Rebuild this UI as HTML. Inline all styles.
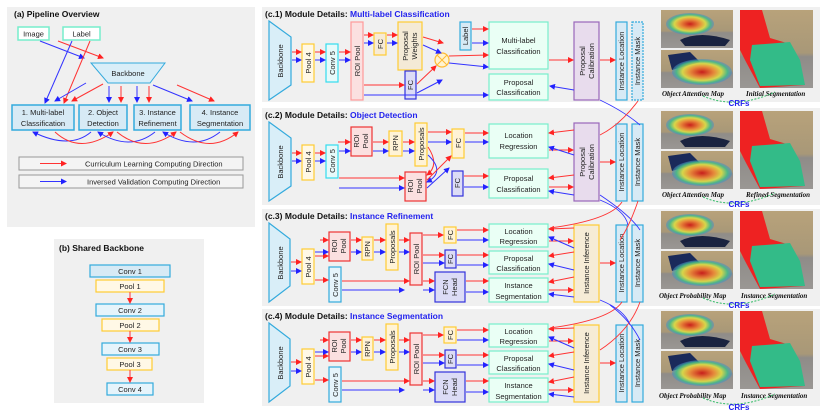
<!DOCTYPE html>
<html><head><meta charset="utf-8"><style>
html,body{margin:0;padding:0;background:#fff;}
svg{display:block;font-family:"Liberation Sans",sans-serif;}
</style></head><body>
<svg width="830" height="415" viewBox="0 0 830 415" xmlns="http://www.w3.org/2000/svg">
<defs>
<marker id="r" markerWidth="6" markerHeight="6" refX="5" refY="3" orient="auto" markerUnits="userSpaceOnUse"><path d="M0,0 L6,3 L0,6 z" fill="#f22"/></marker>
<marker id="b" markerWidth="6" markerHeight="6" refX="5" refY="3" orient="auto" markerUnits="userSpaceOnUse"><path d="M0,0 L6,3 L0,6 z" fill="#22f"/></marker>
<radialGradient id="heat1"><stop offset="0" stop-color="#c11"/><stop offset="0.4" stop-color="#e83"/><stop offset="0.65" stop-color="#dd4"/><stop offset="0.85" stop-color="#4b8"/><stop offset="1" stop-color="#48c" stop-opacity="0.5"/></radialGradient>
<linearGradient id="photo" x1="0" y1="0" x2="0" y2="1"><stop offset="0" stop-color="#b8a27a"/><stop offset="0.55" stop-color="#a89878"/><stop offset="0.6" stop-color="#8f8c88"/><stop offset="1" stop-color="#9a9794"/></linearGradient>
</defs>
<style>
.t{font-size:7.5px;fill:#222;}
.h{font-size:8.5px;font-weight:bold;fill:#111;}
.hb{font-size:8.5px;font-weight:bold;fill:#22e;}
.rl{stroke:#f33;stroke-width:1;fill:none;marker-end:url(#r);}
.bl{stroke:#33f;stroke-width:1;fill:none;marker-end:url(#b);}
.cap{font-family:"Liberation Serif",serif;font-style:italic;font-weight:bold;font-size:7px;fill:#111;}
</style>

<!-- (a) -->
<rect x="7" y="7" width="248" height="220" fill="#f0f0f0"/>
<text x="14" y="17" class="h">(a) Pipeline Overview</text>
<rect x="18" y="27" width="31" height="13" fill="#fff" stroke="#7ec" stroke-width="1.5"/><text x="33.5" y="36.5" class="t" text-anchor="middle">Image</text>
<rect x="63" y="27" width="37" height="13" fill="#fff" stroke="#7ec" stroke-width="1.5"/><text x="81.5" y="36.5" class="t" text-anchor="middle">Label</text>
<polygon points="91,63 165,63 150,83 108,83" fill="#d9eef8" stroke="#3ad" stroke-width="1"/><text x="128" y="76" class="t" text-anchor="middle">Backbone</text>
<g fill="#d7eaf5" stroke="#3ad" stroke-width="1.5">
<rect x="12" y="105" width="62" height="25"/><rect x="79" y="105" width="48" height="25"/><rect x="134" y="105" width="47" height="25"/><rect x="190" y="105" width="60" height="25"/></g>
<g class="t" text-anchor="middle"><text x="43" y="115">1. Multi-label</text><text x="43" y="126">Classification</text><text x="103" y="115">2. Object</text><text x="103" y="126">Detection</text><text x="157.5" y="115">3. Instance</text><text x="157.5" y="126">Refinement</text><text x="220" y="115">4. Instance</text><text x="220" y="126">Segmentation</text></g>
<path class="bl" d="M40,41 L84,58"/><path class="rl" d="M58,41 L103,58"/>
<path class="bl" d="M72,41 L45,103"/><path class="rl" d="M90,41 L64,103"/>
<path class="bl" d="M86,83 L55,101"/><path class="rl" d="M103,84 L72,101"/>
<path class="bl" d="M109,86 L109,102"/><path class="rl" d="M121,86 L121,102"/>
<path class="bl" d="M137,86 L137,102"/><path class="rl" d="M149,86 L149,102"/>
<path class="bl" d="M153,85 L192,101"/><path class="rl" d="M177,85 L214,101"/>
<path class="bl" d="M91,132 Q70,150 33,132"/><path class="rl" d="M55,132 Q80,155 113,132"/>
<path class="bl" d="M155,132 Q130,152 98,132"/><path class="rl" d="M117,132 Q145,155 176,132"/>
<path class="bl" d="M220,132 Q195,152 163,132"/><path class="rl" d="M180,132 Q210,155 238,132"/>
<rect x="19" y="157" width="224" height="13" fill="#f4f4f4" stroke="#999"/><path class="rl" d="M40,163.5 L66,163.5"/><text x="85" y="166.5" class="t">Curriculum Learning Computing Direction</text>
<rect x="19" y="175" width="224" height="13" fill="#f4f4f4" stroke="#999"/><path class="bl" d="M40,181.5 L66,181.5"/><text x="87" y="184.5" class="t">Inversed Validation Computing Direction</text>

<!-- (b) -->
<rect x="54" y="239" width="150" height="164" fill="#f0f0f0"/>
<text x="59" y="251" class="h">(b) Shared Backbone</text>
<g stroke-width="1.2">
<rect x="90" y="265" width="80" height="12" fill="#d7eaf5" stroke="#3ad"/>
<rect x="96" y="280" width="68" height="12" fill="#fff8e6" stroke="#fc3"/>
<rect x="96" y="304" width="68" height="12" fill="#e6f4fb" stroke="#3ad"/>
<rect x="102" y="319" width="57" height="12" fill="#fff8e6" stroke="#fc3"/>
<rect x="102" y="343" width="57" height="12" fill="#e6f4fb" stroke="#3ad"/>
<rect x="107" y="358" width="45" height="12" fill="#fff8e6" stroke="#fc3"/>
<rect x="107" y="383" width="46" height="12" fill="#e6f4fb" stroke="#3ad"/></g>
<g class="t" text-anchor="middle"><text x="130" y="274">Conv  1</text><text x="130" y="289">Pool 1</text><text x="130" y="313">Conv 2</text><text x="130" y="328">Pool 2</text><text x="130" y="352">Conv 3</text><text x="130" y="367">Pool 3</text><text x="130" y="392">Conv 4</text></g>
<path class="rl" d="M130,292 L130,303"/><path class="rl" d="M130,331 L130,342"/><path class="rl" d="M130,370 L130,382"/>

<!-- panels c backgrounds -->
<rect x="262" y="7" width="558" height="95" fill="#f0f0f0"/>
<rect x="262" y="108" width="558" height="97" fill="#f0f0f0"/>
<rect x="262" y="209" width="558" height="97" fill="#f0f0f0"/>
<rect x="262" y="309" width="558" height="97" fill="#f0f0f0"/>
<text x="265" y="17" class="h">(c.1) Module Details: <tspan class="hb">Multi-label Classification</tspan></text>
<text x="265" y="118" class="h">(c.2) Module Details: <tspan class="hb">Object Detection</tspan></text>
<text x="265" y="219" class="h">(c.3) Module Details: <tspan class="hb">Instance Refinement</tspan></text>
<text x="265" y="319" class="h">(c.4) Module Details: <tspan class="hb">Instance Segmentation</tspan></text>

<!-- c.1 -->
<g stroke-width="1.2">
<polygon points="269,21 291,37 291,85 269,100" fill="#d9eef8" stroke="#3ad"/>
<rect x="302" y="44" width="12" height="38" fill="#fff8e6" stroke="#fc3"/>
<rect x="326" y="44" width="12" height="38" fill="#e6fafa" stroke="#3de"/>
<rect x="351" y="22" width="12" height="78" fill="#fbe0e0" stroke="#f99"/>
<rect x="374" y="33" width="12" height="22" fill="#f7ebd6" stroke="#fc3"/>
<rect x="398" y="22" width="24" height="48" fill="#f4ead6" stroke="#fc3"/>
<rect x="405" y="71" width="11" height="28" fill="#dcdcf6" stroke="#33d"/>
<rect x="460" y="22" width="11" height="28" fill="#d7eaf5" stroke="#3ad"/>
<rect x="489" y="22" width="59" height="47" fill="#eafff5" stroke="#7ec"/>
<rect x="489" y="74" width="59" height="26" fill="#eafff5" stroke="#7ec"/>
<rect x="574" y="22" width="25" height="78" fill="#e8dced" stroke="#96b"/>
<rect x="616" y="22" width="11" height="78" fill="#d7eaf5" stroke="#3ad"/>
<rect x="632" y="22" width="11" height="78" fill="#d7eaf5" stroke="#3ad" stroke-dasharray="2,1"/>
<circle cx="442" cy="60" r="7" fill="#fff3d0" stroke="#fb3"/>
</g>
<path d="M437,55 L447,65 M447,55 L437,65" stroke="#fb3"/>
<g class="t" text-anchor="middle">
<text transform="translate(283,61) rotate(-90)">Backbone</text>
<text transform="translate(311,63) rotate(-90)">Pool 4</text>
<text transform="translate(335,63) rotate(-90)">Conv 5</text>
<text transform="translate(360,61) rotate(-90)">ROI Pool</text>
<text transform="translate(383,44) rotate(-90)">FC</text>
<text transform="translate(408,46) rotate(-90)">Proposal</text>
<text transform="translate(417,46) rotate(-90)">Weights</text>
<text transform="translate(413,85) rotate(-90)">FC</text>
<text transform="translate(468,36) rotate(-90)">Label</text>
<text x="518.5" y="43">Multi-label</text><text x="518.5" y="54">Classification</text>
<text x="518.5" y="85">Proposal</text><text x="518.5" y="95">Classification</text>
<text transform="translate(585,61) rotate(-90)">Proposal</text>
<text transform="translate(594,61) rotate(-90)">Calibration</text>
<text transform="translate(624,61) rotate(-90)">Instance Location</text>
<text transform="translate(640,61) rotate(-90)">Instance Mask</text>
</g>
<path class="rl" d="M292,52 L301,52"/><path class="bl" d="M292,60 L301,60"/>
<path class="rl" d="M315,52 L325,52"/><path class="bl" d="M315,60 L325,60"/>
<path class="rl" d="M339,52 L350,52"/><path class="bl" d="M339,60 L350,60"/>
<path class="rl" d="M364,35 L373,35"/><path class="bl" d="M364,43 L373,43"/>
<path class="rl" d="M387,35 L397,35"/><path class="bl" d="M387,43 L397,43"/>
<path class="rl" d="M423,37 L443,43"/><path class="bl" d="M423,45 L441,53"/>
<path class="rl" d="M364,85 L404,85"/><path class="bl" d="M364,95 L488,95"/>
<path class="rl" d="M417,84 L436,66"/><path class="bl" d="M417,93 L442,80"/>
<path class="rl" d="M449,56 L488,55"/><path class="bl" d="M449,63 L488,67"/>
<path class="rl" d="M472,29 L488,29"/><path class="bl" d="M472,43 L488,43"/>
<path class="rl" d="M549,60 L573,60"/><path class="rl" d="M600,60 L615,60"/>
<path class="bl" d="M574,90 L550,86"/>

<!-- c.2 -->
<g stroke-width="1.2">
<polygon points="269,122 291,138 291,186 269,201" fill="#d9eef8" stroke="#3ad"/>
<rect x="302" y="145" width="12" height="35" fill="#fff8e6" stroke="#fc3"/>
<rect x="326" y="145" width="12" height="33" fill="#e6fafa" stroke="#3de"/>
<rect x="351" y="127" width="21" height="29" fill="#fbe0e0" stroke="#e33"/>
<rect x="389" y="131" width="13" height="25" fill="#fff3d6" stroke="#fc3"/>
<rect x="415" y="123" width="12" height="43" fill="#fff3d6" stroke="#fc3"/>
<rect x="452" y="129" width="12" height="29" fill="#fff3d6" stroke="#fc3"/>
<rect x="405" y="172" width="21" height="29" fill="#fbe0e0" stroke="#e33"/>
<rect x="452" y="171" width="11" height="25" fill="#dcdcf6" stroke="#33d"/>
<rect x="489" y="124" width="59" height="34" fill="#eafff5" stroke="#7ec"/>
<rect x="489" y="169" width="59" height="29" fill="#eafff5" stroke="#7ec"/>
<rect x="574" y="123" width="25" height="78" fill="#e8dced" stroke="#96b"/>
<rect x="616" y="124" width="11" height="77" fill="#d7eaf5" stroke="#3ad"/>
<rect x="632" y="124" width="11" height="77" fill="#d7eaf5" stroke="#3ad"/>
</g>
<g class="t" text-anchor="middle">
<text transform="translate(283,162) rotate(-90)">Backbone</text>
<text transform="translate(311,162) rotate(-90)">Pool 4</text>
<text transform="translate(335,161) rotate(-90)">Conv 5</text>
<text transform="translate(359,141) rotate(-90)">ROI</text><text transform="translate(368,141) rotate(-90)">Pool</text>
<text transform="translate(398,143) rotate(-90)">RPN</text>
<text transform="translate(424,144) rotate(-90)">Proposals</text>
<text transform="translate(461,143) rotate(-90)">FC</text>
<text transform="translate(413,186) rotate(-90)">ROI</text><text transform="translate(422,186) rotate(-90)">Pool</text>
<text transform="translate(460,183) rotate(-90)">FC</text>
<text x="518.5" y="138">Location</text><text x="518.5" y="149">Regression</text>
<text x="518.5" y="181">Proposal</text><text x="518.5" y="192">Classification</text>
<text transform="translate(585,162) rotate(-90)">Proposal</text>
<text transform="translate(594,162) rotate(-90)">Calibration</text>
<text transform="translate(624,162) rotate(-90)">Instance Location</text>
<text transform="translate(640,162) rotate(-90)">Instance Mask</text>
</g>
<path class="rl" d="M292,153 L301,153"/><path class="bl" d="M292,161 L301,161"/>
<path class="rl" d="M315,153 L325,153"/><path class="bl" d="M315,161 L325,161"/>
<path class="rl" d="M338,142 L350,142"/><path class="bl" d="M339,151 L350,151"/>
<path class="rl" d="M373,142 L388,142"/><path class="bl" d="M373,151 L388,151"/>
<path class="rl" d="M403,142 L414,142"/><path class="bl" d="M403,151 L414,151"/>
<path class="rl" d="M428,132 L451,132"/><path class="bl" d="M428,142 L451,142"/>
<path class="rl" d="M339,178 L404,178"/><path class="bl" d="M339,188 L404,188"/>
<path class="rl" d="M428,147 Q440,165 427,175"/><path class="bl" d="M428,155 Q446,172 427,182"/>
<path class="rl" d="M427,180 L451,156"/><path class="bl" d="M427,188 L449,168"/>
<path class="rl" d="M465,133 L488,133"/><path class="bl" d="M465,142 L488,142"/>
<path class="bl" d="M464,187 L488,187"/><path class="rl" d="M464,176 L488,176"/>
<path class="rl" d="M574,130 L549,133"/><path class="rl" d="M549,150 L573,150"/><path class="bl" d="M574,155 L549,147"/>
<path class="rl" d="M574,175 L549,178"/><path class="rl" d="M549,187 L573,187"/><path class="bl" d="M574,195 L549,191"/>
<path class="rl" d="M600,162 L615,162"/>

<!-- c.3 and c.4 -->
<g id="c3">
<g stroke-width="1.2">
<polygon points="269,223 290,239 290,286 269,302" fill="#d9eef8" stroke="#3ad"/>
<rect x="302" y="249" width="12" height="35" fill="#fff8e6" stroke="#fc3"/>
<rect x="329" y="232" width="21" height="29" fill="#fbe0e0" stroke="#e33"/>
<rect x="329" y="267" width="12" height="35" fill="#e6f4fb" stroke="#3ad"/>
<rect x="362" y="237" width="11" height="23" fill="#fff3d6" stroke="#fc3"/>
<rect x="386" y="224" width="12" height="46" fill="#fff3d6" stroke="#fc3"/>
<rect x="410" y="233" width="12" height="52" fill="#fbe0e0" stroke="#e33"/>
<rect x="444" y="227" width="12" height="16" fill="#fff3d6" stroke="#fc3"/>
<rect x="445" y="250" width="11" height="18" fill="#dcdcf6" stroke="#33d"/>
<rect x="435" y="272" width="30" height="30" fill="#dcdcf6" stroke="#33d"/>
<rect x="489" y="224" width="59" height="23" fill="#eafff5" stroke="#7ec"/>
<rect x="489" y="251" width="59" height="23" fill="#eafff5" stroke="#7ec"/>
<rect x="489" y="278" width="59" height="24" fill="#eafff5" stroke="#7ec"/>
<rect x="574" y="225" width="25" height="77" fill="#f6ecd6" stroke="#fc3"/>
<rect x="616" y="225" width="11" height="77" fill="#d7eaf5" stroke="#3ad"/>
<rect x="632" y="225" width="11" height="77" fill="#d7eaf5" stroke="#3ad"/>
</g>
<g class="t" text-anchor="middle">
<text transform="translate(283,263) rotate(-90)">Backbone</text>
<text transform="translate(311,267) rotate(-90)">Pool 4</text>
<text transform="translate(337,246) rotate(-90)">ROI</text><text transform="translate(346,246) rotate(-90)">Pool</text>
<text transform="translate(338,285) rotate(-90)">Conv 5</text>
<text transform="translate(370,249) rotate(-90)">RPN</text>
<text transform="translate(395,247) rotate(-90)">Proposals</text>
<text transform="translate(419,259) rotate(-90)">ROI Pool</text>
<text transform="translate(453,235) rotate(-90)">FC</text>
<text transform="translate(453,259) rotate(-90)">FC</text>
<text transform="translate(448,287) rotate(-90)">FCN</text><text transform="translate(457,287) rotate(-90)">Head</text>
<text x="518.5" y="234">Location</text><text x="518.5" y="244">Regression</text>
<text x="518.5" y="261">Proposal</text><text x="518.5" y="271">Classification</text>
<text x="518.5" y="288">Instance</text><text x="518.5" y="299">Segmentation</text>
<text transform="translate(589,263) rotate(-90)">Instance Inference</text>
<text transform="translate(624,263) rotate(-90)">Instance Location</text>
<text transform="translate(640,263) rotate(-90)">Instance Mask</text>
</g>
<path class="rl" d="M291,262 L301,262"/><path class="bl" d="M291,271 L301,271"/>
<path class="rl" d="M315,256 L328,256"/>
<path class="rl" d="M315,280 L328,280"/>
<path class="rl" d="M320,240 L328,240"/><path class="bl" d="M315,252 L328,252"/>
<path class="rl" d="M351,240 L361,240"/><path class="bl" d="M351,252 L361,252"/>
<path class="rl" d="M374,240 L385,240"/><path class="bl" d="M374,252 L385,252"/>
<path class="rl" d="M399,240 L409,240"/><path class="bl" d="M399,252 L409,252"/>
<path class="rl" d="M342,281 L409,281"/><path class="bl" d="M342,290 L404,290"/>
<path class="rl" d="M423,235 L443,235"/><path class="rl" d="M423,255 L444,255"/><path class="bl" d="M423,263 L444,263"/>
<path class="rl" d="M423,281 L434,281"/><path class="bl" d="M423,290 L434,290"/>
<path class="rl" d="M457,230 L488,230"/><path class="bl" d="M457,240 L488,240"/>
<path class="rl" d="M457,255 L488,255"/><path class="bl" d="M457,265 L488,265"/>
<path class="rl" d="M466,281 L488,281"/><path class="bl" d="M466,292 L488,292"/>
<path class="rl" d="M574,228 L549,229"/><path class="rl" d="M549,241 L573,241"/><path class="bl" d="M574,248 L549,237"/>
<path class="rl" d="M574,252 L549,256"/><path class="bl" d="M574,270 L549,264"/>
<path class="rl" d="M574,277 L549,282"/><path class="rl" d="M549,290 L573,290"/><path class="bl" d="M574,297 L549,294"/>
<path class="rl" d="M600,263 L615,263"/>
</g>
<use href="#c3" transform="translate(0,100)"/>

<!-- cross-panel curves -->
<g fill="none" stroke-width="0.9">
<path d="M600,100 Q625,112 640,125" stroke="#33f"/><path d="M638,101 Q620,125 600,135" stroke="#f33"/>
<path d="M600,200 Q625,210 628,225" stroke="#33f"/><path d="M622,202 Q610,220 550,228" stroke="#f33"/>
<path d="M600,195 Q630,215 640,230" stroke="#33f"/><path d="M638,201 Q630,225 620,240" stroke="#f33"/>
<path d="M600,300 Q625,310 630,325" stroke="#33f"/><path d="M622,302 Q610,320 550,328" stroke="#f33"/>
<path d="M640,302 Q630,330 600,350" stroke="#f33"/><path d="M610,305 Q630,320 640,340" stroke="#33f"/>
</g>

<!-- images -->
<g id="im1">
<rect x="661" y="10" width="72" height="38" fill="url(#photo)"/>
<path d="M680,40 Q700,30 730,40 L725,46 L685,46 Z" fill="#1a2340"/>
<ellipse cx="690" cy="24" rx="24" ry="11" fill="url(#heat1)" opacity="0.9"/>
<rect x="661" y="50" width="72" height="38" fill="url(#photo)"/>
<path d="M668,55 L690,52 L700,62 L672,70 Z" fill="#1a2a5a"/>
<ellipse cx="702" cy="72" rx="30" ry="13" fill="url(#heat1)" opacity="0.9"/>
<rect x="740" y="10" width="73" height="78" fill="url(#photo)"/>
<path d="M740,10 L762,10 L770,38 L790,44 L795,58 L805,85 L760,88 L745,60 L740,50 Z" fill="#e22"/>
<path d="M752,45 L790,42 L800,60 L805,85 L760,86 L750,60 Z" fill="#3b8"/>
</g>
<use href="#im1" transform="translate(0,101)"/>
<use href="#im1" transform="translate(0,201)"/>
<use href="#im1" transform="translate(0,301)"/>
<text x="662" y="96" class="cap">Object Attention Map</text><text x="746" y="96" class="cap">Initial Segmentation</text>
<text x="662" y="197" class="cap">Object Attention Map</text><text x="746" y="197" class="cap">Refined Segmentation</text>
<text x="659" y="298" class="cap">Object Probability Map</text><text x="741" y="298" class="cap">Instance Segmentation</text>
<text x="659" y="398" class="cap">Object Probability Map</text><text x="741" y="398" class="cap">Instance Segmentation</text>
<g fill="none" stroke="#3b6" stroke-dasharray="2,1.5">
<path d="M703,96 Q735,110 775,92"/><path d="M703,197 Q735,211 775,193"/><path d="M703,298 Q735,312 775,294"/><path d="M703,398 Q735,412 775,394"/></g>
<g font-size="8" font-weight="bold" fill="#22e" text-anchor="middle"><text x="739" y="106">CRFs</text><text x="739" y="207">CRFs</text><text x="739" y="308">CRFs</text><text x="739" y="410">CRFs</text></g>
</svg>
</body></html>
